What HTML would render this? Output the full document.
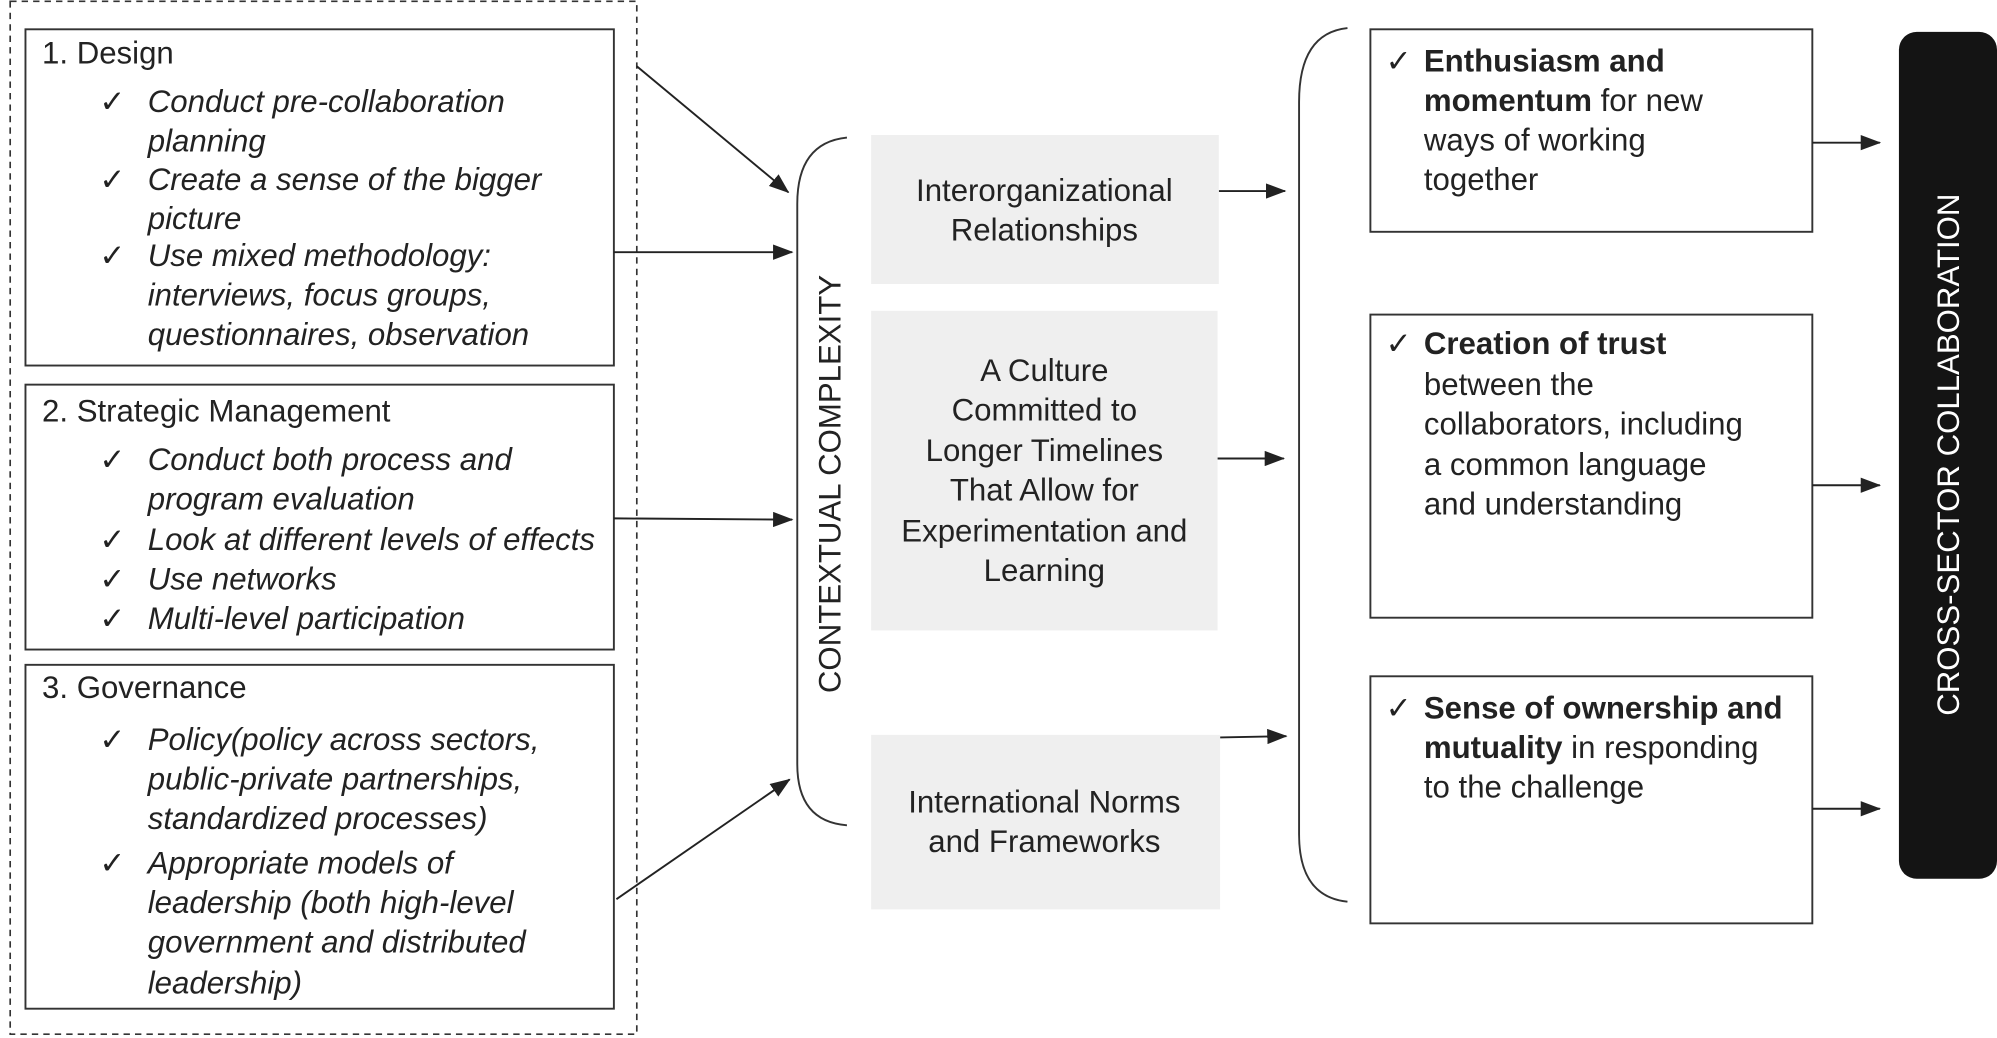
<!DOCTYPE html>
<html><head><meta charset="utf-8"><style>
html,body{margin:0;padding:0;background:#fff;}
svg{display:block;}
text{font-family:"Liberation Sans",sans-serif;fill:#222;}
.i{font-style:italic;}
</style></head><body>
<svg width="1997" height="1038" viewBox="0 0 1568 815" xmlns="http://www.w3.org/2000/svg">
<defs><marker id="a" markerWidth="10" markerHeight="8" refX="9" refY="4" orient="auto" markerUnits="userSpaceOnUse"><path d="M0,0 L12,4 L0,8 z" fill="#222"/></marker>
<marker id="b" markerWidth="16" markerHeight="12" refX="15" refY="6" orient="auto" markerUnits="userSpaceOnUse"><path d="M0,0 L16,6 L0,12 z" fill="#222"/></marker></defs>
<rect x="8" y="1" width="492" height="811" fill="none" stroke="#333" stroke-width="1.3" stroke-dasharray="5,4"/>
<g fill="none" stroke="#333" stroke-width="1.5">
<rect x="20" y="23" width="462" height="264"/>
<rect x="20" y="302" width="462" height="208"/>
<rect x="20" y="522" width="462" height="270"/>
<rect x="1076" y="23" width="347" height="159"/>
<rect x="1076" y="247" width="347" height="238"/>
<rect x="1076" y="531" width="347" height="194"/>
<path d="M665 108 Q626 112 626 160 L626 600 Q626 645 665 648"/>
<path d="M1058 22 Q1020 26 1020 80 L1020 655 Q1020 704 1058 708"/>
</g>
<g stroke="#222" stroke-width="1.5" marker-end="url(#b)">
<line x1="500" y1="52" x2="619" y2="151"/>
<line x1="482" y1="198" x2="622" y2="198"/>
<line x1="482" y1="407" x2="622" y2="408"/>
<line x1="484" y1="706" x2="620" y2="612"/>
<line x1="957" y1="150" x2="1009" y2="150"/>
<line x1="956" y1="360" x2="1008" y2="360"/>
<line x1="958" y1="579" x2="1010" y2="578"/>
<line x1="1423" y1="112" x2="1476" y2="112"/>
<line x1="1423" y1="381" x2="1476" y2="381"/>
<line x1="1423" y1="635" x2="1476" y2="635"/>
</g>
<g fill="#efefef">
<rect x="684" y="106" width="273" height="117"/>
<rect x="684" y="244" width="272" height="251"/>
<rect x="684" y="577" width="274" height="137"/>
</g>
<rect x="1491" y="25" width="77" height="665" rx="14" fill="#141414"/>
<g font-size="24.5">
<text x="33" y="50">1. Design</text>
<text x="78" y="88">✓</text><text class="i" x="116" y="88">Conduct pre-collaboration</text>
<text class="i" x="116" y="119">planning</text>
<text x="78" y="149">✓</text><text class="i" x="116" y="149">Create a sense of the bigger</text>
<text class="i" x="116" y="180">picture</text>
<text x="78" y="209">✓</text><text class="i" x="116" y="209">Use mixed methodology:</text>
<text class="i" x="116" y="240">interviews, focus groups,</text>
<text class="i" x="116" y="271">questionnaires, observation</text>
<text x="33" y="331">2. Strategic Management</text>
<text x="78" y="369">✓</text><text class="i" x="116" y="369">Conduct both process and</text>
<text class="i" x="116" y="400">program evaluation</text>
<text x="78" y="432">✓</text><text class="i" x="116" y="432">Look at different levels of effects</text>
<text x="78" y="463">✓</text><text class="i" x="116" y="463">Use networks</text>
<text x="78" y="494">✓</text><text class="i" x="116" y="494">Multi-level participation</text>
<text x="33" y="548">3. Governance</text>
<text x="78" y="589">✓</text><text class="i" x="116" y="589">Policy(policy across sectors,</text>
<text class="i" x="116" y="620">public-private partnerships,</text>
<text class="i" x="116" y="651">standardized processes)</text>
<text x="78" y="686">✓</text><text class="i" x="116" y="686">Appropriate models of</text>
<text class="i" x="116" y="717">leadership (both high-level</text>
<text class="i" x="116" y="748">government and distributed</text>
<text class="i" x="116" y="780">leadership)</text>
<g text-anchor="middle">
<text x="820" y="158">Interorganizational</text>
<text x="820" y="189">Relationships</text>
<text x="820" y="299">A Culture</text>
<text x="820" y="330">Committed to</text>
<text x="820" y="362">Longer Timelines</text>
<text x="820" y="393">That Allow for</text>
<text x="820" y="425">Experimentation and</text>
<text x="820" y="456">Learning</text>
<text x="820" y="638">International Norms</text>
<text x="820" y="669">and Frameworks</text>
<text transform="translate(660,380) rotate(-90)">CONTEXTUAL COMPLEXITY</text>
<text transform="translate(1538,357) rotate(-90)" style="fill:#fff">CROSS-SECTOR COLLABORATION</text>
</g>
<text x="1088" y="56">✓</text><text x="1118" y="56" font-weight="bold">Enthusiasm and</text>
<text x="1118" y="87"><tspan font-weight="bold">momentum</tspan> for new</text>
<text x="1118" y="118">ways of working</text>
<text x="1118" y="149">together</text>
<text x="1088" y="278">✓</text><text x="1118" y="278" font-weight="bold">Creation of trust</text>
<text x="1118" y="310">between the</text>
<text x="1118" y="341">collaborators, including</text>
<text x="1118" y="373">a common language</text>
<text x="1118" y="404">and understanding</text>
<text x="1088" y="564">✓</text><text x="1118" y="564" font-weight="bold">Sense of ownership and</text>
<text x="1118" y="595"><tspan font-weight="bold">mutuality</tspan> in responding</text>
<text x="1118" y="626">to the challenge</text>
</g>
</svg>
</body></html>
